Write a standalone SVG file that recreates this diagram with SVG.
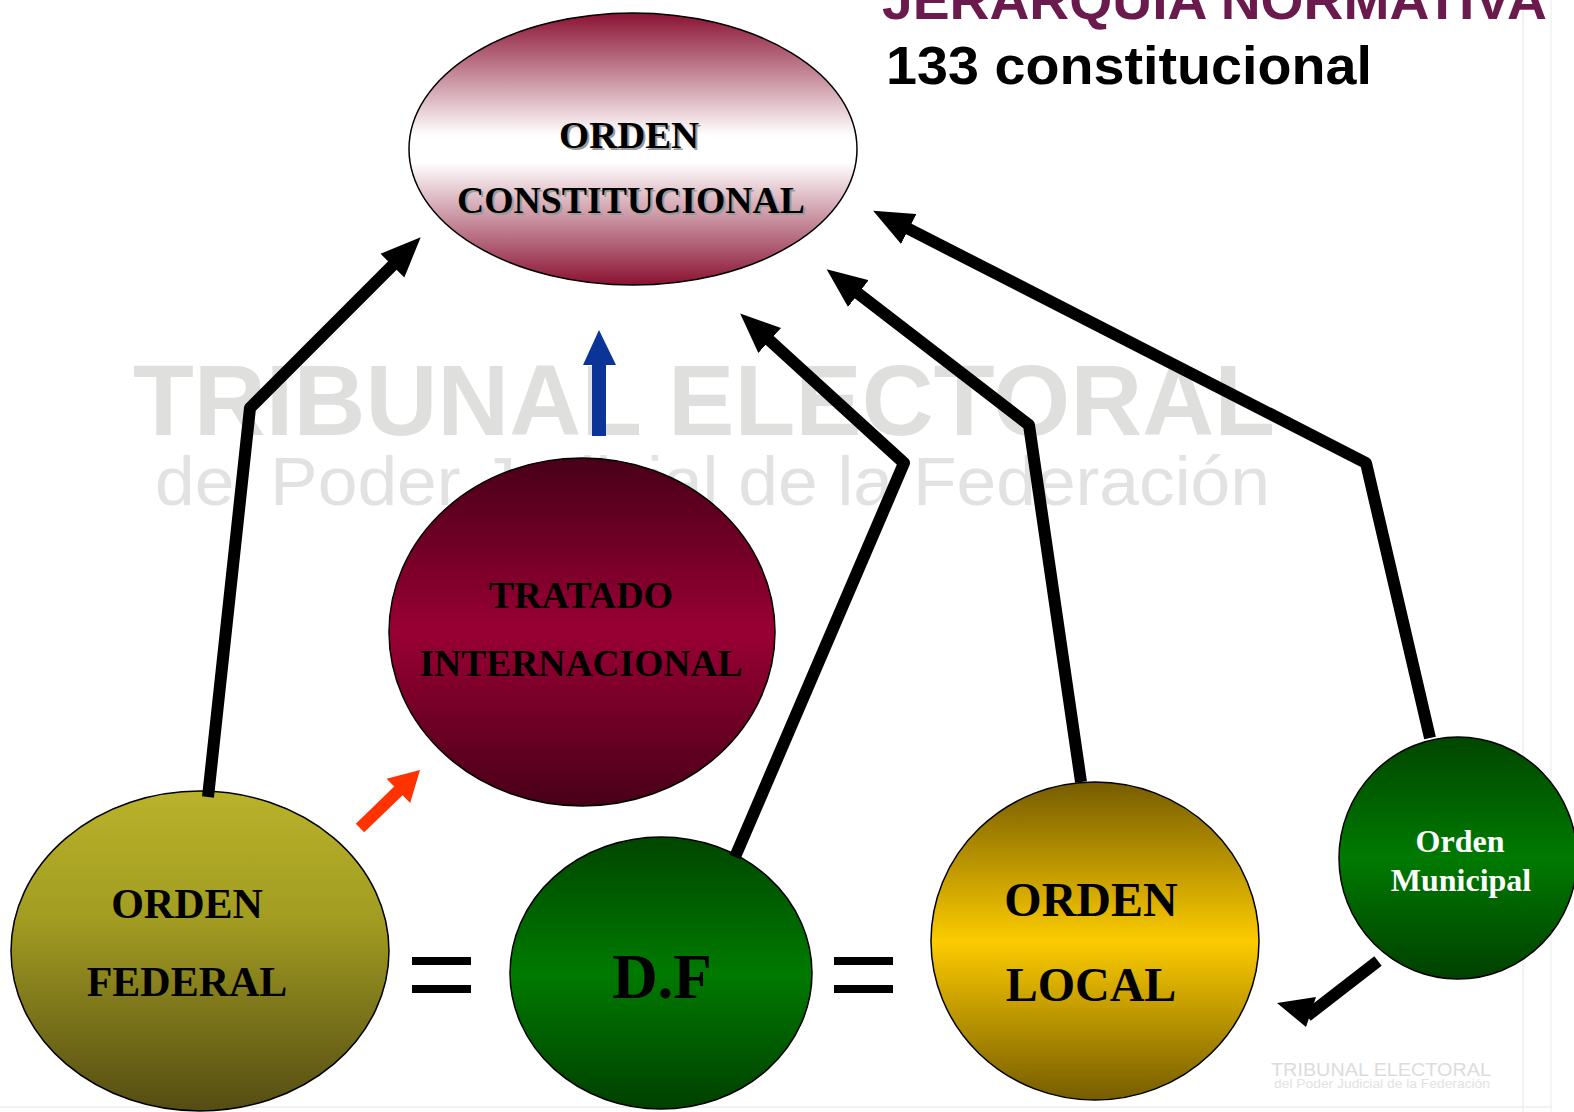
<svg xmlns="http://www.w3.org/2000/svg" width="1574" height="1112" viewBox="0 0 1574 1112">
<style>
.lbl{font-family:"Liberation Serif","Times New Roman",serif;font-weight:bold;text-anchor:middle;fill:#000}
.shadow{fill:#9a9a9a}
.wm{font-family:"Liberation Sans",Arial,sans-serif}
.node{stroke:#000;stroke-width:1.5}
.conn{fill:none;stroke:#000;stroke-width:12;stroke-linejoin:round}
</style>
<defs>
<linearGradient id="gConst" x1="0" y1="0" x2="0" y2="1">
<stop offset="0" stop-color="#8a1232"/><stop offset="0.45" stop-color="#ffffff"/><stop offset="0.55" stop-color="#ffffff"/><stop offset="1" stop-color="#8a1232"/>
</linearGradient>
<linearGradient id="gTrat" x1="0" y1="0" x2="0" y2="1">
<stop offset="0" stop-color="#480018"/><stop offset="0.5" stop-color="#990033"/><stop offset="1" stop-color="#480018"/>
</linearGradient>
<linearGradient id="gFed" x1="0" y1="0" x2="0" y2="1">
<stop offset="0" stop-color="#b9b22a"/><stop offset="0.4" stop-color="#a29c22"/><stop offset="1" stop-color="#544c12"/>
</linearGradient>
<linearGradient id="gGreen" x1="0" y1="0" x2="0" y2="1">
<stop offset="0" stop-color="#004600"/><stop offset="0.5" stop-color="#007a00"/><stop offset="1" stop-color="#004000"/>
</linearGradient>
<linearGradient id="gLocal" x1="0" y1="0" x2="0" y2="1">
<stop offset="0" stop-color="#765c00"/><stop offset="0.5" stop-color="#fccb00"/><stop offset="1" stop-color="#765c00"/>
</linearGradient>
<marker id="ah" markerUnits="userSpaceOnUse" markerWidth="40" markerHeight="34" viewBox="0 0 38 32" refX="4" refY="16" orient="auto">
<path d="M0,0 L38,16 L0,32 z" fill="#000"/>
</marker>
</defs>

<rect x="0" y="0" width="1574" height="1112" fill="#ffffff"/>

<g id="background">
<line x1="1523" y1="0" x2="1523" y2="1112" stroke="#ececec" stroke-width="1.5"/>
<line x1="1551" y1="0" x2="1551" y2="1112" stroke="#f2f2f2" stroke-width="1.5"/>
<line x1="0" y1="1107" x2="1552" y2="1107" stroke="#ececec" stroke-width="1.5"/>
<text class="wm" x="133" y="435" font-size="100" font-weight="bold" fill="#dfdfdd" textLength="1142" lengthAdjust="spacingAndGlyphs">TRIBUNAL ELECTORAL</text>
<text class="wm" x="155" y="505" font-size="68" fill="#e2e2e2" textLength="1115" lengthAdjust="spacingAndGlyphs">del Poder Judicial de la Federación</text>
<text class="wm" x="1271" y="1076" font-size="19" fill="#dcdcdc" textLength="220" lengthAdjust="spacingAndGlyphs">TRIBUNAL ELECTORAL</text>
<text class="wm" x="1274" y="1088" font-size="12" fill="#e2e2e2" textLength="216" lengthAdjust="spacingAndGlyphs">del Poder Judicial de la Federación</text>
</g>

<g id="title">
<text x="882" y="19" font-family="'Liberation Sans',Arial,sans-serif" font-weight="bold" font-size="54" fill="#6a1a4d" textLength="665" lengthAdjust="spacingAndGlyphs">JERARQUIA NORMATIVA</text>
<text x="886" y="84" font-family="'Liberation Sans',Arial,sans-serif" font-weight="bold" font-size="53" fill="#000" textLength="486" lengthAdjust="spacingAndGlyphs">133 constitucional</text>
</g>

<g id="node-constitucional">
<ellipse class="node" cx="633" cy="149" rx="224" ry="136" fill="url(#gConst)"/>
<text class="lbl shadow" x="631" y="150" font-size="38" textLength="140" lengthAdjust="spacingAndGlyphs">ORDEN</text>
<text class="lbl shadow" x="633" y="215" font-size="38" textLength="348" lengthAdjust="spacingAndGlyphs">CONSTITUCIONAL</text>
<text class="lbl" x="629" y="148" font-size="38" textLength="140" lengthAdjust="spacingAndGlyphs">ORDEN</text>
<text class="lbl" x="631" y="213" font-size="38" textLength="348" lengthAdjust="spacingAndGlyphs">CONSTITUCIONAL</text>
</g>

<g id="node-tratado">
<ellipse class="node" cx="582" cy="632" rx="193" ry="174" fill="url(#gTrat)"/>
<text class="lbl" x="581" y="608" font-size="38">TRATADO</text>
<text class="lbl" x="581" y="676" font-size="37.5">INTERNACIONAL</text>
</g>

<g id="node-federal">
<ellipse class="node" cx="200" cy="951" rx="189" ry="160" fill="url(#gFed)"/>
<text class="lbl" x="187" y="918" font-size="42">ORDEN</text>
<text class="lbl" x="187" y="996" font-size="42">FEDERAL</text>
</g>

<g id="node-df">
<ellipse class="node" cx="661" cy="973" rx="151" ry="136" fill="url(#gGreen)"/>
<text class="lbl" x="662" y="998" font-size="63">D.F</text>
</g>

<g id="node-local">
<ellipse class="node" cx="1095" cy="941" rx="164" ry="159" fill="url(#gLocal)"/>
<text class="lbl" x="1091" y="916" font-size="48">ORDEN</text>
<text class="lbl" x="1091" y="1001" font-size="48">LOCAL</text>
</g>

<g id="node-municipal">
<ellipse class="node" cx="1458" cy="858" rx="119" ry="121" fill="url(#gGreen)"/>
<text class="lbl" x="1460" y="852" font-size="32" style="fill:#ffffff">Orden</text>
<text class="lbl" x="1461" y="891" font-size="32" style="fill:#ffffff">Municipal</text>
</g>

<g id="equals">
<rect x="412" y="957" width="59" height="8" fill="#000"/>
<rect x="412" y="985" width="59" height="8" fill="#000"/>
<rect x="834" y="957" width="59" height="8" fill="#000"/>
<rect x="834" y="985" width="59" height="8" fill="#000"/>
</g>

<g id="connectors">
<polyline class="conn" points="208,797 250,408 395.4,262.6" marker-end="url(#ah)"/>
<polyline class="conn" points="735,857 904,463 766.6,337.6" marker-end="url(#ah)"/>
<polyline class="conn" points="1081,782 1029,425 855,291" marker-end="url(#ah)"/>
<polyline class="conn" points="1430,738 1366,463 905,227" marker-end="url(#ah)"/>
<line x1="1378" y1="961" x2="1307" y2="1016" stroke="#000" stroke-width="12"/>
<polygon points="1277,1003 1316,997 1306,1027" fill="#000"/>
<polygon points="592,436 606,436 606,365 616,365 599,330 583,365 592,365" fill="#0a3597"/>
<polygon points="355.8,823.7 394.2,786.6 386.6,778.7 420,770 410.2,803.1 402.6,795.2 364.2,832.3" fill="#ff3300"/>
</g>
</svg>
